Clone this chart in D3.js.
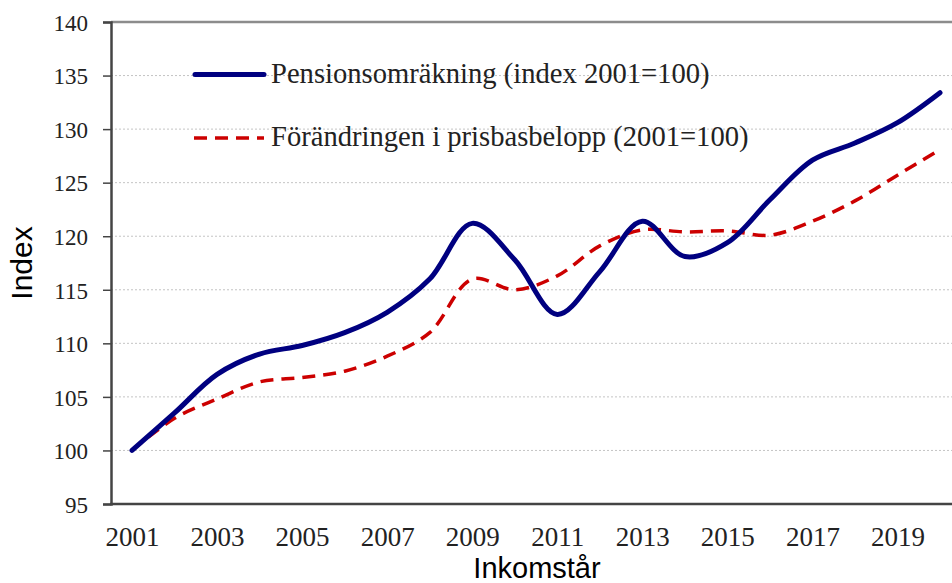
<!DOCTYPE html>
<html>
<head>
<meta charset="utf-8">
<script src="https://cdn.jsdelivr.net/npm/d3@7"></script>
<style>
  html, body { margin: 0; padding: 0; background: #fff; }
  svg { display: block; }
</style>
</head>
<body>
<div id="chart"></div>
<script>
// Inkomstår 2001–2020
const years = [2001, 2002, 2003, 2004, 2005, 2006, 2007, 2008, 2009, 2010,
               2011, 2012, 2013, 2014, 2015, 2016, 2017, 2018, 2019, 2020];

// Pensionsomräkning (index 2001=100)
const pension = [100, 103.5, 107.1, 109.0, 109.8, 111.0, 112.9, 116.0, 121.2, 117.8,
                 112.7, 116.7, 121.4, 118.1, 119.4, 123.4, 127.1, 128.7, 130.6, 133.4];

// Förändringen i prisbasbelopp (2001=100)
const prisbas = [100, 103.0, 104.8, 106.4, 106.8, 107.4, 108.8, 111.0, 116.0, 115.0,
                 116.3, 119.1, 120.6, 120.4, 120.5, 120.1, 121.4, 123.3, 125.7, 128.1];

const yTicks = [95, 100, 105, 110, 115, 120, 125, 130, 135, 140];
const xTickYears = [2001, 2003, 2005, 2007, 2009, 2011, 2013, 2015, 2017, 2019];

const seriesNames = ["Pensionsomräkning (index 2001=100)", "Förändringen i prisbasbelopp (2001=100)"];

const width = 952, height = 583;
const plotLeft = 111, plotTop = 22, plotBottom = 504;

const svg = d3.select("#chart").append("svg").attr("width", width).attr("height", height);

const x = d3.scalePoint().domain(years).range([132, 940]);
const y = d3.scaleLinear().domain([95, 140]).range([plotBottom, plotTop]);

// gridlines
svg.append("g")
  .selectAll("line")
  .data(yTicks.filter(d => d > 95 && d < 140))
  .join("line")
  .attr("x1", plotLeft).attr("x2", width)
  .attr("y1", d => y(d)).attr("y2", d => y(d))
  .attr("stroke", "#c4c4c4")
  .attr("stroke-width", 1)
  .attr("stroke-dasharray", "2,2");

// top border
svg.append("line")
  .attr("x1", plotLeft).attr("x2", width)
  .attr("y1", plotTop).attr("y2", plotTop)
  .attr("stroke", "#8c8c8c").attr("stroke-width", 2.5);

// y axis
const yAxis = svg.append("g")
  .attr("transform", `translate(${plotLeft},0)`)
  .call(d3.axisLeft(y).tickValues(yTicks).tickSize(8).tickPadding(15));
yAxis.select(".domain").attr("stroke", "#444").attr("stroke-width", 2.5);
yAxis.selectAll(".tick line").attr("stroke", "#444").attr("stroke-width", 1.5);
yAxis.selectAll(".tick text")
  .attr("font-family", "'Liberation Serif', 'Times New Roman', serif")
  .attr("font-size", 23)
  .attr("fill", "#222")
  .attr("dy", "0.36em");

// x axis
const xAxis = svg.append("g")
  .attr("transform", `translate(0,${plotBottom})`)
  .call(d3.axisBottom(x).tickValues(xTickYears).tickSize(0).tickPadding(23).tickFormat(d3.format("d")));
xAxis.select(".domain").remove();
xAxis.selectAll(".tick text")
  .attr("font-family", "'Liberation Serif', 'Times New Roman', serif")
  .attr("font-size", 27)
  .attr("fill", "#222");

svg.append("line")
  .attr("x1", plotLeft - 1).attr("x2", width)
  .attr("y1", plotBottom).attr("y2", plotBottom)
  .attr("stroke", "#444").attr("stroke-width", 2.5);

// axis titles
svg.append("text")
  .attr("transform", `translate(32,${(plotTop + plotBottom) / 2}) rotate(-90)`)
  .attr("text-anchor", "middle")
  .attr("font-family", "'Liberation Sans', Arial, sans-serif")
  .attr("font-size", 30)
  .attr("fill", "#000")
  .text("Index");

svg.append("text")
  .attr("x", 537).attr("y", 578)
  .attr("text-anchor", "middle")
  .attr("font-family", "'Liberation Sans', Arial, sans-serif")
  .attr("font-size", 29)
  .attr("fill", "#000")
  .text("Inkomstår");

// lines
const line = d3.line()
  .x((d, i) => x(years[i]))
  .y(d => y(d))
  .curve(d3.curveCatmullRom.alpha(0.5));

svg.append("path")
  .datum(prisbas)
  .attr("d", line)
  .attr("fill", "none")
  .attr("stroke", "#cc0000")
  .attr("stroke-width", 3.5)
  .attr("stroke-dasharray", "13,8");

svg.append("path")
  .datum(pension)
  .attr("d", line)
  .attr("fill", "none")
  .attr("stroke", "#000080")
  .attr("stroke-width", 5)
  .attr("stroke-linecap", "round");

// legend
const legend = svg.append("g");
legend.append("line")
  .attr("x1", 195).attr("x2", 264).attr("y1", 74.5).attr("y2", 74.5)
  .attr("stroke", "#000080").attr("stroke-width", 5).attr("stroke-linecap", "round");
legend.append("line")
  .attr("x1", 194).attr("x2", 264).attr("y1", 138).attr("y2", 138)
  .attr("stroke", "#cc0000").attr("stroke-width", 3.5).attr("stroke-dasharray", "13,8");
legend.selectAll("text")
  .data(seriesNames)
  .join("text")
  .attr("x", 271)
  .attr("y", (d, i) => i === 0 ? 83 : 146)
  .attr("font-family", "'Liberation Serif', 'Times New Roman', serif")
  .attr("font-size", 28.6)
  .attr("fill", "#222")
  .text(d => d);
</script>
</body>
</html>
